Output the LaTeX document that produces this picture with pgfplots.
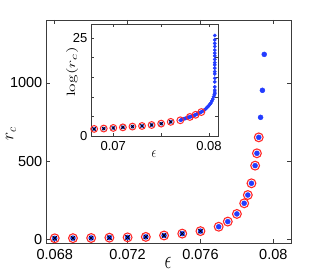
\documentclass[border=0pt]{standalone}
\usepackage{pgfplots}
\pgfplotsset{compat=1.18}
\usepackage{graphicx}
\usepackage[no-math]{fontspec}
\setmainfont{Liberation Sans}
\definecolor{mblue}{RGB}{35,60,255}
\definecolor{mred}{RGB}{255,40,40}
\definecolor{axgray}{RGB}{60,60,60}
\begin{document}
\begin{tikzpicture}
\path[use as bounding box] (0,0) rectangle (322pt,275pt);
% ---------------- main axis ----------------
\begin{axis}[
 at={(46pt,32pt)}, anchor=south west,
 scale only axis, width=245pt, height=223pt,
 xmin=0.06752, xmax=0.08097, ymin=-24, ymax=1403,
 xtick={0.068,0.072,0.076,0.08}, xticklabels={0.068,0.072,0.076,0.08},
 ytick={0,500,1000}, yticklabels={0,500,1000},
 scaled ticks=false,
 tick align=inside,
 axis line style={axgray, line width=0.6pt},
 tick style={axgray, line width=0.5pt},
 major tick length=4pt,
 ticklabel style={font=\fontsize{14.5}{16}\selectfont, inner sep=0pt},
 xticklabel style={yshift=-6.5pt},
 yticklabel style={xshift=-3.5pt},
 /pgf/number format/assume math mode=true,
 xlabel={\scalebox{1}[1.5]{$\epsilon$}}, ylabel={$r_c$},
 xlabel style={at={(axis description cs:0.498,-0.09)}, anchor=center, font=\fontsize{16}{18}\selectfont},
 ylabel style={at={(axis description cs:-0.143,0.489)}, anchor=center, font=\fontsize{17}{19}\selectfont},
 clip=false,
]
% blue dots (all points)
\addplot[only marks, mark=*, mark size=2.5pt, mark options={draw=mblue, fill=mblue}] coordinates {
(0.068,6) (0.069,7) (0.070,8) (0.071,10) (0.072,12) (0.073,15) (0.074,24) (0.075,36) (0.076,52)
(0.077,80) (0.0775,113) (0.078,162) (0.0784,230) (0.0786,283) (0.0788,358) (0.0790,471) (0.0791,550) (0.0792,652)
(0.0793,780) (0.0794,953) (0.0795,1183)
};
% red circles
\addplot[only marks, mark=o, mark size=4.4pt, mark options={draw=mred, line width=1.1pt}] coordinates {
(0.068,6) (0.069,7) (0.070,8) (0.071,10) (0.072,12) (0.073,15) (0.074,24) (0.075,36) (0.076,52)
(0.077,80) (0.0775,113) (0.078,162) (0.0784,230) (0.0786,283) (0.0788,358) (0.0790,471) (0.0791,550) (0.0792,652)
};
% black crosses
\addplot[only marks, mark=x, mark size=3pt, mark options={draw=black, line width=0.8pt}] coordinates {
(0.068,6) (0.069,7) (0.070,8) (0.071,10) (0.072,12) (0.073,15) (0.074,24) (0.075,36) (0.076,52)
};
\end{axis}
% ---------------- inset ----------------
\begin{axis}[
 at={(91pt,139pt)}, anchor=south west,
 scale only axis, width=127.5pt, height=111.5pt,
 axis background/.style={fill=white},
 xmin=0.06767, xmax=0.08099, ymin=0, ymax=28.4,
 xtick={0.07,0.075,0.08}, xticklabels={0.07,,0.08},
 ytick={0,5,10,15,20,25}, yticklabels={0,,,,,25},
 scaled ticks=false,
 tick align=inside,
 axis line style={axgray, line width=0.6pt},
 tick style={axgray, line width=0.4pt},
 major tick length=3pt,
 ticklabel style={font=\fontsize{13}{15}\selectfont, inner sep=0pt},
 xticklabel style={yshift=-5.5pt},
 yticklabel style={xshift=-3.5pt},
 /pgf/number format/assume math mode=true,
 xlabel={\scalebox{1}[1.3]{$\epsilon$}}, ylabel={\scalebox{1.45}[1]{$\log(r_c)$}},
 xlabel style={at={(axis description cs:0.494,-0.161)}, anchor=center, font=\fontsize{13}{15}\selectfont},
 ylabel style={at={(axis description cs:-0.149,0.574)}, anchor=center, font=\fontsize{13}{15}\selectfont},
 clip=false,
]
\addplot[only marks, mark=*, mark size=1.7pt, mark options={draw=mblue, fill=mblue}] coordinates {
(0.068,1.8) (0.069,1.9) (0.070,2.05) (0.071,2.2) (0.072,2.4) (0.073,2.55) (0.074,2.8) (0.075,3.15) (0.076,3.6)
(0.0770,4.0) (0.0771,4.1) (0.0772,4.2) (0.0773,4.3) (0.0774,4.4) (0.0775,4.45) (0.0776,4.55) (0.0777,4.65)
(0.0778,4.75) (0.0779,4.8) (0.0780,4.85) (0.0781,4.95) (0.0782,5.0) (0.0783,5.05) (0.0784,5.15) (0.0785,5.3)
(0.0786,5.4) (0.0787,5.55) (0.0788,5.7) (0.0789,5.8) (0.0790,5.9) (0.0791,6.0) (0.0792,6.1) (0.0793,6.3)
(0.0794,6.45) (0.0795,6.6) (0.0796,6.8) (0.0797,7.0) (0.0798,7.3) (0.0799,7.5) (0.0800,7.8) (0.0801,8.1)
(0.0802,8.4) (0.0803,8.9) (0.0804,9.4) (0.08048,10.0) (0.08055,10.5)
(0.0806,10.8) (0.0806,11.2) (0.0806,11.7) (0.0806,12.5) (0.0806,13.8) (0.0806,14.7) (0.0806,15.8) (0.0806,16.4)
(0.0806,17.3) (0.0806,18.1) (0.0806,18.7) (0.0806,19.5) (0.0806,20.4) (0.0806,21.1) (0.0806,21.9) (0.0806,22.8)
(0.0806,23.6) (0.0806,24.5) (0.0806,25.6)
};
\addplot[only marks, mark=o, mark size=3.4pt, mark options={draw=mred, line width=1pt}] coordinates {
(0.068,1.8) (0.069,1.9) (0.070,2.05) (0.071,2.2) (0.072,2.4) (0.073,2.55) (0.074,2.8) (0.075,3.15) (0.076,3.6)
(0.0770,4.0) (0.0780,4.85) (0.0786,5.4) (0.0792,6.1)
};
\addplot[only marks, mark=x, mark size=2.4pt, mark options={draw=black, line width=0.7pt}] coordinates {
(0.068,1.8) (0.069,1.9) (0.070,2.05) (0.071,2.2) (0.072,2.4) (0.073,2.55) (0.074,2.8) (0.075,3.15) (0.076,3.6)
};
\end{axis}
\end{tikzpicture}
\end{document}
